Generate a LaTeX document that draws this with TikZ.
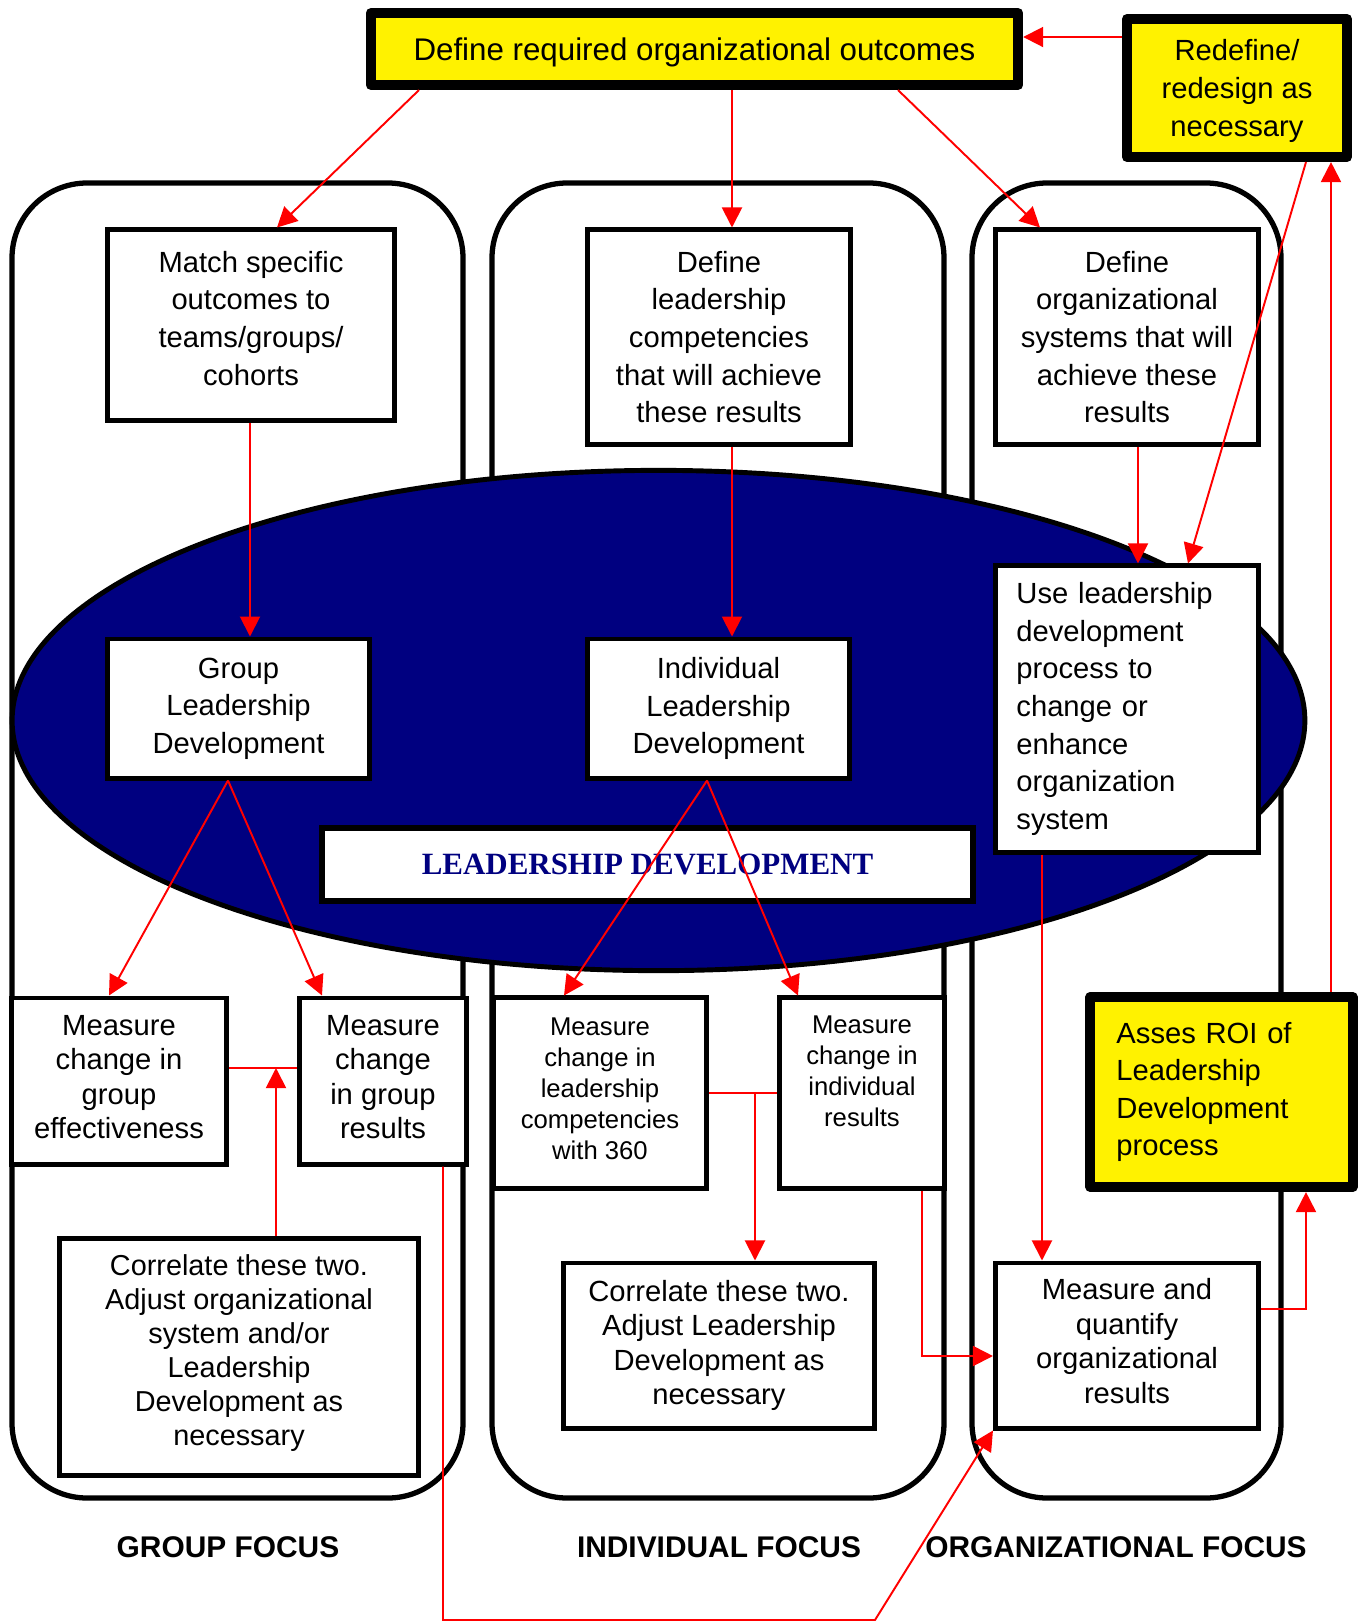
\documentclass[tikz,border=0pt]{standalone}
\usepackage{fontspec}
\setmainfont{Liberation Sans}
\newfontfamily\ldserif{Liberation Serif}
\usetikzlibrary{arrows.meta}
\definecolor{ldnavy}{RGB}{0,0,128}

\begin{document}
\begin{tikzpicture}[x=0.01cm,y=-0.01cm,>={Triangle[length=2mm,width=2mm]},
    lane/.style={draw,line width=1.5pt,rounded corners=0.75cm,fill=white},
    plainbox/.style={draw,line width=1.4pt,fill=white,align=center,inner sep=0pt,font=\fontsize{8.3}{10.7}\selectfont},
    tightbox/.style={plainbox,font=\fontsize{8.3}{9.8}\selectfont},
    smallbox/.style={plainbox,font=\fontsize{7.3}{8.8}\selectfont},
    yellowbox/.style={plainbox,line width=2.85pt,fill=yellow,line join=round},
    focuslabel/.style={font=\fontsize{8.5}{10}\selectfont\bfseries},
    redarrow/.style={->,red,line width=0.55pt},
    redline/.style={red,line width=0.55pt}]
    \useasboundingbox (0,0) rectangle (1360,1623);

    % Colonnes
    \draw[lane] (12,183) rectangle (463,1498);
    \draw[lane] (492,183) rectangle (944,1498);
    \draw[lane] (972,183) rectangle (1281,1498);

    % Ellipse
    \draw[line width=1.4pt,fill=ldnavy] (658.5,720.5) ellipse [x radius=6.46cm, y radius=2.5cm];

    % Haut
    \node[yellowbox,minimum width=6.47cm,minimum height=0.72cm,text depth=0pt,font=\fontsize{8.9}{10.7}\selectfont] (outcomes) at (694.5,49) {Define required organizational outcomes};
    \node[yellowbox,minimum width=2.2cm,minimum height=1.38cm,text depth=-0.14cm] (redefine) at (1237,88) {Redefine/\\redesign as\\necessary};

    \node[plainbox,minimum width=2.87cm,minimum height=1.9cm,text depth=0.14cm] (match) at (251,325) {Match specific\\outcomes to\\teams/groups/\\cohorts};
    \node[plainbox,minimum width=2.63cm,minimum height=2.14cm] (defcomp) at (719,337) {Define\\leadership\\competencies\\that will achieve\\these results};
    \node[plainbox,minimum width=2.63cm,minimum height=2.14cm] (defsys) at (1127,337) {Define\\organizational\\systems that will\\achieve these\\results};

    % Milieu
    \node[plainbox,minimum width=2.62cm,minimum height=1.39cm] (groupld) at (238.5,708.5) {Group\\Leadership\\Development};
    \node[plainbox,minimum width=2.62cm,minimum height=1.39cm] (indld) at (718.5,708.5) {Individual\\Leadership\\Development};
    \node[plainbox,align=left,text width=2.21cm,inner xsep=0.21cm,minimum width=2.63cm,minimum height=2.86cm] (uselead) at (1127,709) {Use leadership\\development\\process to\\change or\\enhance\\organization\\system};
    \node[plainbox,minimum width=6.51cm,minimum height=0.73cm,line width=1.7pt,text=ldnavy,font=\ldserif\bfseries\fontsize{8.8}{10}\selectfont] (ldlabel) at (647.5,864.5) {LEADERSHIP DEVELOPMENT};

    % Mesures
    \node[tightbox,minimum width=2.15cm,minimum height=1.66cm,text depth=0.08cm] (mgeff) at (119,1081) {Measure\\change in\\group\\effectiveness};
    \node[tightbox,minimum width=1.67cm,minimum height=1.66cm,text depth=0.08cm] (mgres) at (383,1081) {Measure\\change\\in group\\results};
    \node[smallbox,minimum width=2.13cm,minimum height=1.9cm,text depth=0.08cm] (mcomp) at (600,1093) {Measure\\change in\\leadership\\competencies\\with 360};
    \node[smallbox,minimum width=1.65cm,minimum height=1.9cm,text depth=0.44cm] (mires) at (862,1093) {Measure\\change in\\individual\\results};
    \node[yellowbox,align=left,text width=2.1cm,inner xsep=0.26cm,minimum width=2.62cm,minimum height=1.9cm] (asses) at (1221.5,1092) {Asses ROI of\\Leadership\\Development\\process};

    % Bas
    \node[tightbox,font=\fontsize{8.2}{9.7}\selectfont,minimum width=3.59cm,minimum height=2.36cm,text depth=0.14cm] (corrg) at (239,1357) {Correlate these two.\\Adjust organizational\\system and/or\\Leadership\\Development as\\necessary};
    \node[tightbox,minimum width=3.11cm,minimum height=1.65cm] (corri) at (719,1345.5) {Correlate these two.\\Adjust Leadership\\Development as\\necessary};
    \node[tightbox,minimum width=2.63cm,minimum height=1.65cm,text depth=0.09cm] (mquant) at (1127,1345.5) {Measure and\\quantify\\organizational\\results};

    \node[focuslabel] (grpfocus) at (228,1547) {GROUP FOCUS};
    \node[focuslabel] (indfocus) at (719,1547) {INDIVIDUAL FOCUS};
    \node[focuslabel] (orgfocus) at (1116,1547) {ORGANIZATIONAL FOCUS};

    % Fleches
    \draw[redarrow] (outcomes.south -| 419,0) -- (match.north -| 277,0);
    \draw[redarrow] (outcomes.south -| 732,0) -- (defcomp.north -| 732,0);
    \draw[redarrow] (outcomes.south -| 898,0) -- (defsys.north -| 1040,0);
    \draw[redarrow] (redefine.west |- 0,37) -- (outcomes.east |- 0,37);

    \draw[redarrow] (match.south -| 250,0) -- (groupld.north -| 250,0);
    \draw[redarrow] (defcomp.south -| 732,0) -- (indld.north -| 732,0);
    \draw[redarrow] (defsys.south -| 1138,0) -- (uselead.north -| 1138,0);
    \draw[redarrow] (redefine.south -| 1306,0) -- (uselead.north -| 1188,0);

    \draw[redarrow] (groupld.south -| 228,0) -- (mgeff.north -| 109,0);
    \draw[redarrow] (groupld.south -| 228,0) -- (mgres.north -| 322,0);
    \draw[redarrow] (indld.south -| 707,0) -- (mcomp.north -| 564,0);
    \draw[redarrow] (indld.south -| 707,0) -- (mires.north -| 798,0);
    \draw[redarrow] (uselead.south -| 1042,0) -- (mquant.north -| 1042,0);

    \draw[redarrow] (asses.north -| 1331,0) -- (redefine.south -| 1331,0);
    \draw[redarrow] (mquant.east |- 0,1309) -| (asses.south -| 1306,0);
    \draw[redarrow] (mires.south -| 922,0) |- (mquant.west |- 0,1356);

    \coordinate (loopl) at (443,1620);
    \coordinate (loopr) at (875,1620);
    \draw[redarrow] (mgres.south -| loopl) -- (loopl) -- (loopr) -- (mquant.south west);

    % Correlations
    \coordinate (gjoin) at (276,1068);
    \draw[redline] (mgeff.east |- gjoin) -- (mgres.west |- gjoin);
    \draw[redarrow] (corrg.north -| gjoin) -- (gjoin);
    \coordinate (ijoin) at (755,1093);
    \draw[redline] (mcomp.east |- ijoin) -- (mires.west |- ijoin);
    \draw[redarrow] (ijoin) -- (corri.north -| ijoin);

\end{tikzpicture}
\end{document}
